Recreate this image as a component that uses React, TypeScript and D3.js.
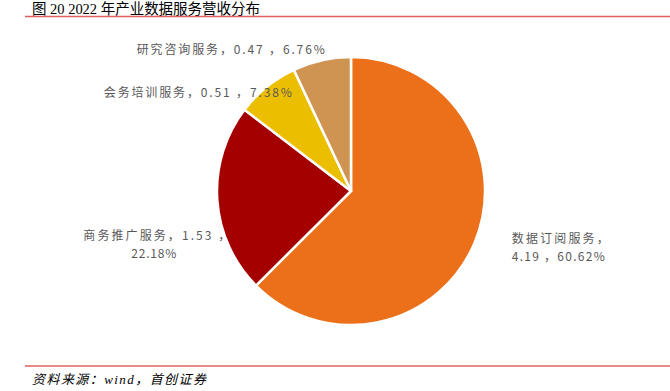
import React from "react";
import * as d3 from "d3";

const categories = ["数据订阅服务", "商务推广服务", "会务培训服务", "研究咨询服务"];
const values = [4.19, 1.53, 0.51, 0.47];
const shares = ["60.62%", "22.18%", "7.38%", "6.76%"];
const colors = ["#EC6F1A", "#A50000", "#EBBF00", "#D09452"];

// label lines per slice
const labelLines: string[][] = [
  [`${categories[0]}，`, `${values[0]} ，${shares[0]}`],
  [`${categories[1]}，${values[1]} ，`, `${shares[1]}`],
  [`${categories[2]}，${values[2]} ，${shares[2]}`],
  [`${categories[3]}，${values[3]} ，${shares[3]}`],
];

// layout (offsets from the outer-arc midpoint; widths of each line)
const labelLayout = [
  { dx: [37, 37], dy: 1, w: [97, 93] },
  { dx: [-134, -86], dy: 40, w: [147, 45] },
  { dx: [-163], dy: 10, w: [188] },
  { dx: [-185], dy: -6, w: [188] },
];

const W = 670;
const H = 391;
const cx = 351;
const cy = 191;
const R = 134;

export default function App() {
  const pie = d3
    .pie<number>()
    .sort(null)
    .value((d) => d)
    .startAngle(0)
    .endAngle(2 * Math.PI);
  const arcs = pie(values);
  const arc = d3.arc<d3.PieArcDatum<number>>().innerRadius(0).outerRadius(R);

  return (
    <svg
      width={W}
      height={H}
      style={{ position: "absolute", left: 0, top: 0, background: "#fff" }}
    >
      <text
        x={32}
        y={14}
        fontSize={14.5}
        fontFamily="'Liberation Serif', 'Noto Sans CJK SC'"
        fill="#000"
        textLength={228}
        lengthAdjust="spacing"
      >
        图 20 2022 年产业数据服务营收分布
      </text>
      <line x1={25} x2={670} y1={16.5} y2={16.5} stroke="#E06060" strokeWidth={1.5} />

      <g transform={`translate(${cx},${cy})`}>
        {arcs.map((a, i) => (
          <path key={i} d={arc(a) || ""} fill={colors[i]} stroke="#fff" strokeWidth={2.5} />
        ))}
        {arcs.map((a, i) => {
          const mid = (a.startAngle + a.endAngle) / 2;
          const px = Math.sin(mid) * R;
          const py = -Math.cos(mid) * R;
          const L = labelLayout[i];
          return (
            <g key={"l" + i}>
              {labelLines[i].map((t, j) => (
                <text
                  key={j}
                  x={px + L.dx[j]}
                  y={py + L.dy + j * 18}
                  fontSize={12}
                  fontFamily="'Noto Sans CJK SC', 'DejaVu Sans'"
                  fill="#595959"
                  textLength={L.w[j]}
                  lengthAdjust="spacing"
                >
                  {t}
                </text>
              ))}
            </g>
          );
        })}
      </g>

      <line x1={25} x2={670} y1={366} y2={366} stroke="#E06060" strokeWidth={1.5} />
      <text
        x={32}
        y={384}
        fontSize={13}
        fontStyle="italic"
        fontFamily="'Liberation Serif', 'Noto Sans CJK SC'"
        fill="#000"
        textLength={174}
        lengthAdjust="spacing"
      >
        资料来源：wind，首创证券
      </text>
    </svg>
  );
}
